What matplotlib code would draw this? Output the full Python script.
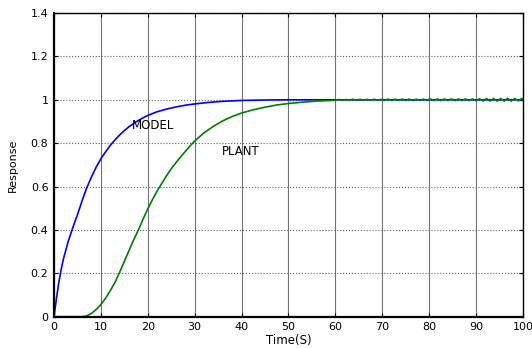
import numpy as np
import matplotlib
matplotlib.use('Agg')
import matplotlib.pyplot as plt

# %% Data
t_model = [0, 0.5, 1, 1.5, 2, 3, 4, 5, 6, 7, 8, 9, 10, 11, 12, 13, 14, 15,
           16, 17, 18, 19, 20, 22, 24, 26, 28, 30, 33, 36, 40, 45, 50, 100]
model = [0, 0.08, 0.155, 0.215, 0.265, 0.345, 0.41, 0.47, 0.535, 0.595,
         0.645, 0.69, 0.728, 0.76, 0.79, 0.815, 0.838, 0.858, 0.876, 0.891,
         0.905, 0.917, 0.928, 0.945, 0.957, 0.967, 0.975, 0.981, 0.988,
         0.993, 0.997, 0.999, 1.0, 1.0]

t_plant = [0, 6, 7, 8, 9, 10, 11, 12, 13, 14, 15, 16, 17, 18, 19, 20, 21,
           22, 23, 24, 25, 26, 27, 28, 29, 30, 32, 34, 36, 38, 40, 42.5, 45,
           47.5, 50, 53, 56, 59]
plant = [0, 0, 0.004, 0.015, 0.033, 0.056, 0.085, 0.12, 0.158, 0.205, 0.255,
         0.305, 0.355, 0.40, 0.45, 0.497, 0.54, 0.58, 0.615, 0.65, 0.682,
         0.71, 0.737, 0.762, 0.787, 0.81, 0.848, 0.878, 0.903, 0.923, 0.939,
         0.954, 0.966, 0.976, 0.983, 0.989, 0.994, 0.997]

# small ripple on the plant response from 60 s on
t_tail = np.arange(60, 100, 0.75).tolist() + [100]
tail = [0.998, 1.001, 0.998, 1.001, 0.998, 1.002, 0.998, 1.002, 0.998, 1.002,
        0.998, 1.002, 0.998, 1.002,
        0.997, 1.003, 0.997, 1.003, 0.997, 1.003, 0.997, 1.003, 0.997, 1.003,
        0.997, 1.003, 0.997,
        1.004, 0.996, 1.004, 0.996, 1.004, 0.996, 1.004, 0.996, 1.004, 0.996,
        1.004, 0.996, 1.004,
        0.995, 1.005, 0.994, 1.006, 0.994, 1.006, 0.994, 1.006, 0.994, 1.007,
        0.994, 1.006, 0.995, 1.006,
        1.0]

x_ticks = [0, 10, 20, 30, 40, 50, 60, 70, 80, 90, 100]
y_ticks = [0, 0.2, 0.4, 0.6, 0.8, 1.0, 1.2, 1.4]
y_tick_labels = ['0', '0.2', '0.4', '0.6', '0.8', '1', '1.2', '1.4']

# %% Plot
plt.rcParams['font.family'] = 'DejaVu Sans'
fig = plt.figure(figsize=(5.32, 3.48), dpi=100)
ax = fig.add_axes([0.1015, 0.09, 0.8815, 0.8725])

ax.plot(t_model, model, color='#0000ff', lw=1.2)
ax.plot(t_plant + t_tail, plant + tail, color='#008000', lw=1.2)

ax.set_xlim(0, 100)
ax.set_ylim(0, 1.4)
ax.set_xticks(x_ticks)
ax.set_yticks(y_ticks)
ax.set_yticklabels(y_tick_labels)
ax.tick_params(direction='in', length=3, width=0.8, top=True, right=True,
               labelsize=8, pad=4)

ax.xaxis.grid(True, color='0.45', lw=0.8, ls='-')
ax.yaxis.grid(True, color='0.4', lw=0.8, ls=':')
ax.set_axisbelow(True)

for side in ['left', 'bottom']:
    ax.spines[side].set_linewidth(1.6)
for side in ['top', 'right']:
    ax.spines[side].set_linewidth(1.0)

ax.text(16.6, 0.865, 'MODEL', fontsize=8.5, va='baseline')
ax.text(35.9, 0.746, 'PLANT', fontsize=8.5, va='baseline')

ax.set_xlabel('Time(S)', fontsize=8.5, labelpad=1)
ax.set_ylabel('Response', fontsize=8)
ax.yaxis.set_label_coords(-0.078, 0.5)

plt.savefig('out.png', dpi=100, facecolor='white')
